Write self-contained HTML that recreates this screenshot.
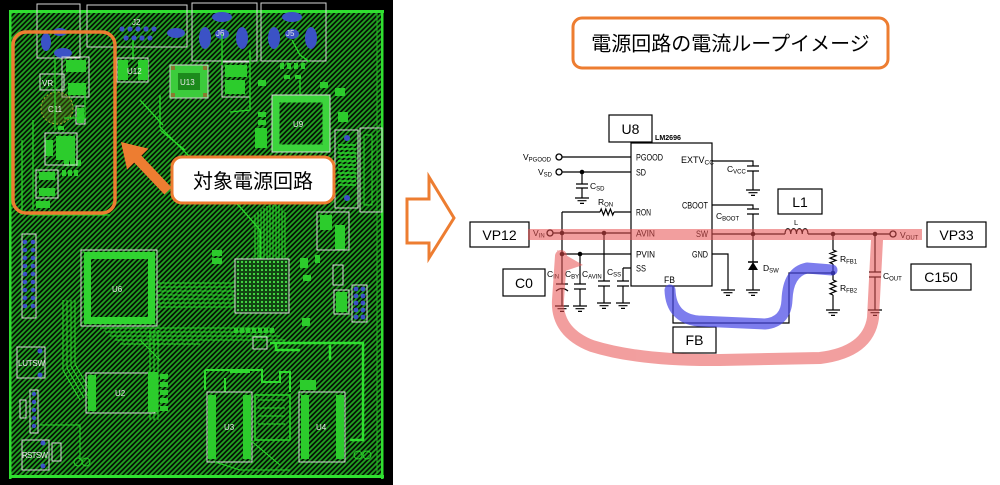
<!DOCTYPE html>
<html><head><meta charset="utf-8">
<style>
html,body{margin:0;padding:0;background:#fff;}
svg{display:block;}
.o{fill:none;stroke:#d6d6d6;stroke-width:1;}
.g{fill:#2ccc2c;}
.gl{fill:none;stroke:#2ad62a;}
.b{fill:#3b52c6;}
.k{stroke:#000;stroke-width:1.2;fill:none;}
.t{font-family:"Liberation Sans",Arial,sans-serif;fill:#000;}
.pt{font-family:"Liberation Sans",Arial,sans-serif;fill:#e8e8e8;font-size:8px;}
</style></head>
<body>
<svg width="1000" height="485" viewBox="0 0 1000 485" xmlns="http://www.w3.org/2000/svg">
<defs>
 <pattern id="h" width="5" height="5" patternUnits="userSpaceOnUse">
  <rect width="5" height="5" fill="#061406"/>
  <path d="M-1,1 l2,-2 M0,5 l5,-5 M4,6 l2,-2" stroke="#22a222" stroke-width="1.7"/>
 </pattern>
 <pattern id="d" width="4" height="4" patternUnits="userSpaceOnUse">
  <rect width="4" height="4" fill="#124412"/><circle cx="2" cy="2" r="1.1" fill="#46e046"/>
 </pattern>
 <g id="gnd"><path d="M-7,0 H7 M-4.5,2.7 H4.5 M-2,5.4 H2" stroke="#000" stroke-width="1.2"/></g>
</defs>
<rect width="1000" height="485" fill="#fff"/>

<!-- ============ PCB ============ -->
<rect x="0" y="0" width="393" height="485" fill="#000"/>
<rect x="10" y="11" width="373" height="466" fill="url(#h)"/>
<rect x="9" y="10" width="375" height="3" fill="#30e030"/>
<rect x="9" y="10" width="2.5" height="469" fill="#30e030"/>
<rect x="381" y="10" width="2.5" height="469" fill="#30e030"/>
<rect x="9" y="475" width="375" height="3" fill="#30e030"/>
<line x1="377" y1="14" x2="377" y2="474" stroke="#26b626" stroke-width="1"/>

<!-- top connectors -->
<rect x="37" y="4" width="43" height="54" class="o"/>
<ellipse cx="46" cy="42" rx="5" ry="9" class="b"/>
<ellipse cx="63" cy="53" rx="9" ry="5" class="b"/>
<ellipse cx="60" cy="32" rx="7" ry="4" class="b"/>
<rect x="87" y="5" width="100" height="42" class="o"/>
<g class="b">
<circle cx="122" cy="29" r="2.6"/><circle cx="130" cy="29" r="2.6"/><circle cx="138" cy="29" r="2.6"/><circle cx="146" cy="29" r="2.6"/><circle cx="154" cy="29" r="2.6"/>
<circle cx="126" cy="38" r="2.6"/><circle cx="134" cy="38" r="2.6"/><circle cx="142" cy="38" r="2.6"/><circle cx="150" cy="38" r="2.6"/>
<ellipse cx="176" cy="33" rx="9" ry="5"/>
</g>
<text x="132" y="25" class="pt">J2</text>
<rect x="192" y="3" width="65" height="58" class="o"/>
<g class="b"><ellipse cx="205" cy="38" rx="6" ry="11"/><ellipse cx="242" cy="38" rx="6" ry="11"/><ellipse cx="222" cy="17" rx="10" ry="5"/><ellipse cx="222" cy="34" rx="7" ry="5"/></g>
<text x="216" y="36" class="pt">J6</text>
<rect x="261" y="3" width="65" height="58" class="o"/>
<g class="b"><ellipse cx="274" cy="38" rx="6" ry="11"/><ellipse cx="311" cy="38" rx="6" ry="11"/><ellipse cx="292" cy="17" rx="10" ry="5"/><ellipse cx="292" cy="34" rx="7" ry="5"/></g>
<text x="286" y="36" class="pt">J5</text>

<!-- left power area -->
<g class="g">
<rect x="66" y="60" width="20" height="12"/><rect x="68" y="83" width="18" height="12"/>
<rect x="77" y="108" width="7" height="15"/>
<rect x="56" y="136" width="19" height="24"/><rect x="45" y="140" width="8" height="16"/>
<rect x="39" y="172" width="16" height="8"/><rect x="39" y="188" width="16" height="8"/>
<rect x="36" y="201" width="14" height="7"/>
<rect x="58" y="126" width="6" height="4"/>
<rect x="64" y="160" width="5" height="6"/><rect x="70" y="160" width="5" height="6"/><rect x="76" y="160" width="5" height="6"/>
<rect x="62" y="170" width="4" height="6"/><rect x="68" y="170" width="4" height="6"/><rect x="74" y="170" width="4" height="6"/>
</g>
<rect x="62" y="57" width="27" height="40" class="o"/>
<rect x="40" y="74" width="24" height="16" class="o"/><text x="42" y="86" class="pt">VR</text>
<circle cx="57" cy="108" r="16" fill="rgba(110,110,30,0.35)" stroke="#a8a830" stroke-dasharray="2 2"/>
<text x="48" y="112" class="pt">C11</text>
<rect x="76" y="106" width="9" height="18" class="o"/>
<rect x="45" y="133" width="32" height="32" class="o"/>
<rect x="36" y="170" width="22" height="28" class="o"/>
<path d="M55,58 V130 M64,118 H85 V95 M33,120 V210 M22,140 V215 M30,215 H110" class="gl" stroke-width="1.2"/>

<!-- top middle -->
<line x1="133" y1="40" x2="133" y2="60" stroke="#2ad62a" stroke-width="1.5"/>
<rect x="117" y="58" width="31" height="24" class="o"/>
<g class="g"><rect x="118" y="60" width="10" height="20"/><rect x="138" y="60" width="10" height="20"/></g>
<text x="127" y="74" class="pt">U12</text>
<rect x="170" y="65" width="38" height="33" fill="#3ccc3c" stroke="#d0d0d0" stroke-width="1"/>
<rect x="178" y="73" width="22" height="17" fill="#1c8a1c"/>
<g fill="#8a7a30"><rect x="171" y="66" width="4" height="4"/><rect x="203" y="66" width="4" height="4"/><rect x="171" y="93" width="4" height="4"/><rect x="203" y="93" width="4" height="4"/></g>
<text x="180" y="85" class="pt">U13</text>
<rect x="225" y="65" width="22" height="12" class="g"/><rect x="225" y="80" width="20" height="14" class="g"/>
<rect x="222" y="62" width="28" height="35" class="o"/>
<path d="M222,34 V65 M292,40 L300,55 L310,62 M250,50 V110 L230,112 M160,95 V127 L240,207 L260,230 V259 M300,100 L300,80 M160,130 L185,150 M163,125 L140,100" class="gl" stroke-width="1.3"/>
<g class="g"><rect x="280" y="63" width="4" height="6"/><rect x="287" y="63" width="4" height="6"/><rect x="294" y="63" width="4" height="6"/><rect x="301" y="63" width="4" height="6"/><rect x="284" y="75" width="6" height="4"/><rect x="295" y="75" width="6" height="4"/><rect x="320" y="82" width="8" height="6"/><rect x="335" y="88" width="10" height="8"/><rect x="338" y="112" width="10" height="10"/></g>
<rect x="272" y="95" width="58" height="57" class="o"/>
<rect x="276" y="99" width="50" height="49" fill="none" stroke="#3cd43c" stroke-width="7"/>
<text x="293" y="127" class="pt">U9</text>
<rect x="255" y="128" width="12" height="20" class="g"/>
<g class="g"><rect x="258" y="112" width="8" height="5"/><rect x="258" y="120" width="8" height="5"/><rect x="258" y="80" width="8" height="6"/></g>
<rect x="335" y="130" width="23" height="78" class="o"/>
<g stroke="#2ad62a" stroke-width="1.5">
<line x1="338" y1="145" x2="356" y2="145"/><line x1="338" y1="149" x2="356" y2="149"/><line x1="338" y1="153" x2="356" y2="153"/><line x1="338" y1="157" x2="356" y2="157"/><line x1="338" y1="161" x2="356" y2="161"/><line x1="338" y1="165" x2="356" y2="165"/><line x1="338" y1="169" x2="356" y2="169"/><line x1="338" y1="173" x2="356" y2="173"/><line x1="338" y1="177" x2="356" y2="177"/><line x1="338" y1="181" x2="356" y2="181"/><line x1="338" y1="185" x2="356" y2="185"/>
</g>
<circle cx="347" cy="138" r="3" class="b"/><circle cx="347" cy="198" r="3" class="b"/>
<rect x="360" y="128" width="22" height="84" class="o"/>
<rect x="364" y="135" width="8" height="70" fill="none" stroke="#2ad62a"/>

<!-- middle -->
<g stroke="#2ad62a" stroke-width="1" fill="none">
<path d="M255,215 V259 M258,212 V259 M261,210 V259 M264,208 V259 M267,206 V259 M270,205 V259 M273,205 V259 M276,205 V259 M279,205 V259 M282,208 V259 M285,212 V259"/>
<path d="M157,283 H235 M157,287 H235 M157,291 H235 M157,295 H235 M157,299 H235 M157,303 H235 M157,307 H235"/>
<path d="M100,328 H270 M105,332 H275 M110,336 H280 M115,340 H285 M120,344 H200"/>
<path d="M63,300 V370 L80,400 M67,300 V368 L84,398 M71,300 V366 L88,396 M75,300 V364 L92,394"/>
<path d="M150,330 V420 M154,330 V420 M158,330 V420 M140,340 L160,360"/>
</g>
<rect x="81" y="250" width="76" height="76" class="o"/>
<g fill="#30d430"><rect x="84" y="252" width="70" height="7"/><rect x="148" y="252" width="7" height="72"/><rect x="84" y="317" width="70" height="7"/><rect x="84" y="252" width="7" height="72"/></g>
<text x="112" y="292" class="pt">U6</text>
<rect x="235" y="259" width="54" height="54" fill="url(#d)" stroke="#e0e0e0" stroke-width="1"/>
<g class="g"><rect x="212" y="250" width="10" height="6"/><rect x="212" y="258" width="10" height="6"/><rect x="300" y="258" width="8" height="10"/><rect x="303" y="275" width="8" height="6"/><rect x="302" y="318" width="8" height="8"/><rect x="320" y="215" width="12" height="15"/><rect x="335" y="225" width="10" height="25"/><rect x="315" y="255" width="5" height="8"/></g>
<rect x="317" y="212" width="32" height="38" class="o"/>
<rect x="333" y="265" width="10" height="20" class="o"/>
<path d="M270,343 H363 V440 H350 M276,343 V350 H300 M330,345 V360" fill="none" stroke="#30e030" stroke-width="2.5"/>
<rect x="352" y="285" width="15" height="37" class="o"/>
<g class="b"><circle cx="356" cy="289" r="2.4"/><circle cx="363" cy="289" r="2.4"/><circle cx="356" cy="296" r="2.4"/><circle cx="363" cy="296" r="2.4"/><circle cx="356" cy="303" r="2.4"/><circle cx="363" cy="303" r="2.4"/><circle cx="356" cy="310" r="2.4"/><circle cx="363" cy="310" r="2.4"/><circle cx="356" cy="317" r="2.4"/><circle cx="363" cy="317" r="2.4"/></g>
<rect x="334" y="290" width="15" height="24" class="o"/><rect x="336" y="292" width="11" height="20" class="g"/>
<rect x="253" y="337" width="14" height="12" class="o"/>
<g class="g"><rect x="234" y="328" width="4" height="5"/><rect x="240" y="328" width="4" height="5"/><rect x="246" y="328" width="4" height="5"/><rect x="252" y="328" width="4" height="5"/><rect x="258" y="328" width="4" height="5"/><rect x="264" y="328" width="4" height="5"/><rect x="270" y="328" width="4" height="5"/></g>

<!-- left column -->
<rect x="22" y="234" width="14" height="84" class="o"/>
<g class="b"><circle cx="25" cy="242" r="2.3"/><circle cx="33" cy="242" r="2.3"/><circle cx="25" cy="250" r="2.3"/><circle cx="33" cy="250" r="2.3"/><circle cx="25" cy="258" r="2.3"/><circle cx="33" cy="258" r="2.3"/><circle cx="25" cy="266" r="2.3"/><circle cx="33" cy="266" r="2.3"/><circle cx="25" cy="274" r="2.3"/><circle cx="33" cy="274" r="2.3"/><circle cx="25" cy="282" r="2.3"/><circle cx="33" cy="282" r="2.3"/><circle cx="25" cy="290" r="2.3"/><circle cx="33" cy="290" r="2.3"/><circle cx="25" cy="298" r="2.3"/><circle cx="33" cy="298" r="2.3"/><circle cx="25" cy="306" r="2.3"/><circle cx="33" cy="306" r="2.3"/></g>
<rect x="17" y="347" width="28" height="31" class="o"/>
<circle cx="40" cy="351" r="2.5" class="b"/><circle cx="40" cy="375" r="2.5" class="b"/>
<text x="18" y="366" class="pt" textLength="27">LUTSW</text>
<rect x="30" y="390" width="8" height="43" class="o"/>
<g class="b"><circle cx="34" cy="394" r="2.2"/><circle cx="34" cy="402" r="2.2"/><circle cx="34" cy="410" r="2.2"/><circle cx="34" cy="418" r="2.2"/><circle cx="34" cy="426" r="2.2"/></g>
<rect x="20" y="400" width="6" height="18" class="o"/>
<rect x="22" y="440" width="27" height="30" class="o"/>
<circle cx="43" cy="443" r="2.5" class="b"/><circle cx="43" cy="466" r="2.5" class="b"/>
<text x="22" y="458" class="pt" textLength="26">RSTSW</text>
<rect x="52" y="443" width="9" height="18" class="o"/>
<circle cx="78" cy="462" r="4" fill="none" stroke="#2ad62a"/><circle cx="86" cy="462" r="4" fill="none" stroke="#2ad62a"/>
<path d="M40,425 H80 V460" fill="none" stroke="#2ad62a"/>

<!-- U2 -->
<rect x="86" y="373" width="69" height="40" class="o"/>
<rect x="88" y="375" width="8" height="36" class="g"/>
<text x="115" y="396" class="pt">U2</text>
<rect x="148" y="372" width="10" height="40" class="g"/>
<g class="g"><rect x="160" y="374" width="8" height="5"/><rect x="160" y="382" width="8" height="5"/><rect x="160" y="390" width="8" height="5"/><rect x="160" y="398" width="8" height="5"/><rect x="160" y="406" width="8" height="5"/></g>

<!-- U3 / U4 -->
<path d="M205,370 H262 V382 H280 V372 H290 V392 M205,370 V390 M225,378 V392 M230,372 H250" fill="none" stroke="#30dc30" stroke-width="2"/>
<rect x="207" y="392" width="45" height="70" class="o"/>
<rect x="208" y="395" width="8" height="64" class="g"/><rect x="243" y="395" width="8" height="64" class="g"/>
<text x="224" y="430" class="pt">U3</text>
<rect x="255" y="395" width="35" height="45" fill="none" stroke="#2ad62a" stroke-width="1.5"/>
<path d="M258,400 H285 M258,408 H285 M258,416 H285 M258,424 H285" stroke="#2ad62a"/>
<rect x="299" y="392" width="46" height="70" class="o"/>
<rect x="301" y="395" width="8" height="64" class="g"/><rect x="336" y="395" width="8" height="64" class="g"/>
<text x="316" y="430" class="pt">U4</text>
<rect x="300" y="380" width="16" height="10" class="g"/>
<path d="M215,462 L240,470 H290 M250,440 L280,465" fill="none" stroke="#2ad62a"/>
<circle cx="358" cy="455" r="4" fill="none" stroke="#2ad62a"/><circle cx="367" cy="455" r="4" fill="none" stroke="#2ad62a"/>

<!-- orange annotations on PCB -->
<rect x="13" y="32" width="102" height="181" rx="13" fill="none" stroke="#ed7d31" stroke-width="3.5"/>
<polygon points="121,142 148.5,148.6 141.4,155.6 171.6,187.5 164.4,194.5 134.2,162.6 127.1,169.6" fill="#ed7d31"/>
<rect x="172" y="157" width="162" height="46" rx="10" fill="#fff" stroke="#ed7d31" stroke-width="3"/>
<text x="253" y="188" text-anchor="middle" class="t" font-size="20" style="font-family:'Liberation Sans','Noto Sans CJK JP',sans-serif">対象電源回路</text>

<!-- hollow arrow -->
<polygon points="407,199 429,199 429,177 454,218 429,258 429,243 407,243" fill="#fff" stroke="#ed7d31" stroke-width="3" stroke-linejoin="miter"/>

<!-- title -->
<rect x="573" y="18" width="315" height="50" rx="9" fill="#fff" stroke="#ed7d31" stroke-width="3"/>
<text x="730.5" y="50.5" text-anchor="middle" class="t" font-size="20" style="font-family:'Liberation Sans','Noto Sans CJK JP',sans-serif">電源回路の電流ループイメージ</text>

<!-- ============ SCHEMATIC ============ -->
<g class="t">
<rect x="609" y="115" width="43" height="27" class="k"/>
<text x="630.5" y="134" text-anchor="middle" font-size="14">U8</text>
<text x="655" y="140" font-size="7" font-weight="bold" textLength="26" lengthAdjust="spacingAndGlyphs">LM2696</text>

<rect x="631" y="143" width="81" height="143" class="k"/>
<g font-size="9">
<text x="636" y="160.5" textLength="27" lengthAdjust="spacingAndGlyphs">PGOOD</text>
<text x="636" y="175.5" textLength="10" lengthAdjust="spacingAndGlyphs">SD</text>
<text x="636" y="215.5" textLength="15" lengthAdjust="spacingAndGlyphs">RON</text>
<text x="636" y="236.5" textLength="19" lengthAdjust="spacingAndGlyphs">AVIN</text>
<text x="636" y="257.5" textLength="19" lengthAdjust="spacingAndGlyphs">PVIN</text>
<text x="636" y="271.5" textLength="10" lengthAdjust="spacingAndGlyphs">SS</text>
<text x="664" y="283" textLength="11" lengthAdjust="spacingAndGlyphs">FB</text>
<text x="681" y="163">EXTV<tspan font-size="6.5" dy="1.5">CC</tspan></text>
<text x="682" y="208.5" textLength="26" lengthAdjust="spacingAndGlyphs">CBOOT</text>
<text x="696" y="237" textLength="12" lengthAdjust="spacingAndGlyphs">SW</text>
<text x="692" y="257.5" textLength="16" lengthAdjust="spacingAndGlyphs">GND</text>
</g>

<!-- left side wiring -->
<path class="k" d="M562,157 H631 M562,172 H631 M582,172 V184 M576,184 H588 M576,188 H588 M582,188 V198 M562,212 H600 M614,212 H631 M562,212 V284 M553,233 H631 M562,254 H631 M580,254 V284 M604,233 V281 M623,268 H631 M623,268 V281"/>
<path class="k" d="M600,212 l1.2,-3 l2.3,6 l2.3,-6 l2.3,6 l2.3,-6 l2.3,6 l1.3,-3"/>
<use href="#gnd" x="582" y="198"/>
<circle cx="559" cy="157" r="3" fill="#fff" stroke="#000" stroke-width="1.3"/>
<circle cx="559" cy="172" r="3" fill="#fff" stroke="#000" stroke-width="1.3"/>
<circle cx="550" cy="233" r="3" fill="#fff" stroke="#000" stroke-width="1.3"/>
<circle cx="582" cy="172" r="2.3" fill="#000"/>
<circle cx="562" cy="233" r="2.3" fill="#000"/>
<circle cx="604" cy="233" r="2.3" fill="#000"/>
<circle cx="562" cy="254" r="2.3" fill="#000"/>
<circle cx="580" cy="254" r="2.3" fill="#000"/>
<!-- caps bottom -->
<path class="k" d="M556,284 H568 M556,291 Q562,286 568,291 M562,289 V306 M574,284 H586 M574,289 H586 M580,289 V306 M598,281 H610 M598,286 H610 M604,286 V303 M617,281 H629 M617,286 H629 M623,286 V303"/>
<use href="#gnd" x="562" y="306"/><use href="#gnd" x="580" y="306"/><use href="#gnd" x="604" y="303"/><use href="#gnd" x="623" y="303"/>

<g font-size="8.5">
<text x="523" y="160">V<tspan font-size="6" dy="1.5">PGOOD</tspan></text>
<text x="538" y="175">V<tspan font-size="6" dy="1.5">SD</tspan></text>
<text x="533" y="236">V<tspan font-size="6" dy="1.5">IN</tspan></text>
<text x="590" y="189">C<tspan font-size="6" dy="1.5">SD</tspan></text>
<text x="598" y="205">R<tspan font-size="6" dy="1.5">ON</tspan></text>
<text x="547" y="277">C<tspan font-size="6" dy="1.5">IN</tspan></text>
<text x="565" y="277">C<tspan font-size="6" dy="1.5">BY</tspan></text>
<text x="582" y="277">C<tspan font-size="6" dy="1.5">AVIN</tspan></text>
<text x="607" y="275">C<tspan font-size="6" dy="1.5">SS</tspan></text>
<text x="727" y="172">C<tspan font-size="6" dy="1.5">VCC</tspan></text>
<text x="716" y="219">C<tspan font-size="6" dy="1.5">BOOT</tspan></text>
<text x="763" y="271">D<tspan font-size="6" dy="1.5">SW</tspan></text>
<text x="840" y="262">R<tspan font-size="6" dy="1.5">FB1</tspan></text>
<text x="840" y="291">R<tspan font-size="6" dy="1.5">FB2</tspan></text>
<text x="883" y="279">C<tspan font-size="6" dy="1.5">OUT</tspan></text>
<text x="900" y="238">V<tspan font-size="6" dy="1.5">OUT</tspan></text>
</g>
<text x="794" y="225" font-size="7.5">L</text>

<!-- right wiring -->
<path class="k" d="M712,161 H753 V166 M747,166 H759 M747,171 H759 M753,171 V190 M712,205 H753 V209 M747,209 H759 M747,214 H759 M753,214 V234 M712,234 H785 M808,234 H890 M753,234 V262 M753,270 V290 M712,254 H728 V290 M833,234 V250 M833,264 V280 M833,295 V310 M875,234 V272 M869,272 H881 M869,277 H881 M875,277 V310"/>
<path d="M748,262 H758" stroke="#000" stroke-width="1.5"/>
<polygon points="748,270 758,270 753,262" fill="#000"/>
<path class="k" d="M785,234 c0,-7 5.75,-7 5.75,0 c0,-7 5.75,-7 5.75,0 c0,-7 5.75,-7 5.75,0 c0,-7 5.75,-7 5.75,0"/>
<path class="k" d="M833,250 l3,1.2 l-6,2.3 l6,2.3 l-6,2.3 l6,2.3 l-6,2.3 l3,1.3"/>
<path class="k" d="M833,280 l3,1.2 l-6,2.5 l6,2.5 l-6,2.5 l6,2.5 l-6,2.5 l3,1.3"/>
<use href="#gnd" x="753" y="290"/><use href="#gnd" x="753" y="190"/><use href="#gnd" x="728" y="290"/><use href="#gnd" x="833" y="310"/><use href="#gnd" x="875" y="310"/>
<circle cx="893" cy="234" r="3" fill="#fff" stroke="#000" stroke-width="1.3"/>
<circle cx="753" cy="234" r="2.3" fill="#000"/>
<circle cx="833" cy="234" r="2.3" fill="#000"/>
<circle cx="875" cy="234" r="2.3" fill="#000"/>
<circle cx="833" cy="273" r="2.3" fill="#000"/>
<!-- FB wiring -->
<path class="k" d="M673,286 V323 H789 V273 H833"/>

<!-- label boxes -->
<rect x="470" y="222" width="59" height="25" fill="#fff" class="k"/>
<text x="499.5" y="240" text-anchor="middle" font-size="14">VP12</text>
<rect x="503" y="269" width="42" height="27" fill="#fff" class="k"/>
<text x="524" y="288" text-anchor="middle" font-size="14">C0</text>
<rect x="778" y="189" width="44" height="25" fill="#fff" class="k"/>
<text x="800" y="207" text-anchor="middle" font-size="14">L1</text>
<rect x="927" y="222" width="59" height="25" fill="#fff" class="k"/>
<text x="956.5" y="240" text-anchor="middle" font-size="14">VP33</text>
<rect x="911" y="264" width="60" height="26" fill="#fff" class="k"/>
<text x="941" y="282" text-anchor="middle" font-size="14">C150</text>
<rect x="673" y="327" width="43" height="26" fill="#fff" class="k"/>
<text x="694.5" y="345" text-anchor="middle" font-size="14">FB</text>
</g>

<!-- highlights -->
<g opacity="0.55">
<path d="M528,234.5 H922" stroke="#e85050" stroke-width="11" fill="none"/>
<path d="M561,256 L558,300 Q556,332 592,346 Q640,361 720,360 L820,358 Q868,352 873,318 L877,240" stroke="#e85050" stroke-width="12" fill="none" stroke-linecap="round" stroke-linejoin="round"/>
<polygon points="557,250 583,265 565,271" fill="#e85050"/>
</g>
<path d="M670,290 Q671,318 698,321 L765,324 Q786,322 787,300 Q788,272 807,268 L832,270" stroke="#4646e6" stroke-width="11" fill="none" stroke-linecap="round" stroke-linejoin="round" opacity="0.7"/>
</svg>
</body></html>
